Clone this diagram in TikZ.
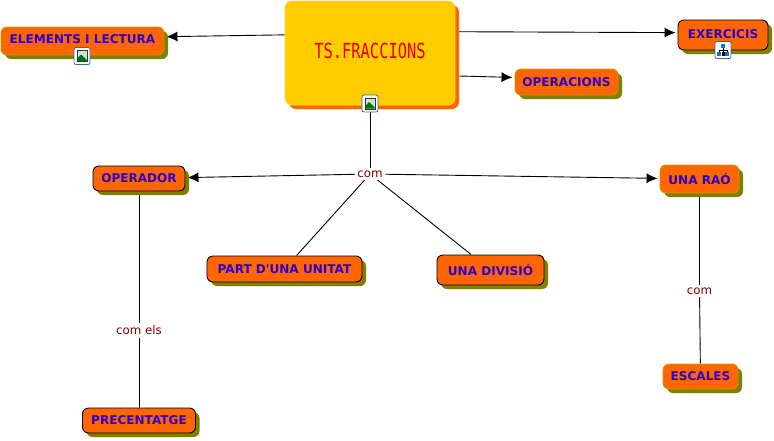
\documentclass[tikz,border=0pt]{standalone}
\usepackage{fontspec}
\setmainfont{DejaVu Sans}
\newfontfamily\lcdfont{DejaVu Sans Mono}
\usetikzlibrary{arrows.meta,shadows,backgrounds}
\definecolor{mapblue}{RGB}{44,0,200}
\definecolor{maporange}{RGB}{255,102,0}
\definecolor{mapgold}{RGB}{255,204,0}
\definecolor{mapolive}{RGB}{128,128,0}
\definecolor{mapedge}{RGB}{190,160,0}
\definecolor{mapred}{RGB}{128,0,0}
\definecolor{iconblue}{RGB}{40,110,190}
\tikzset{
  mapblock/.style={rectangle,draw=black,fill=maporange,line width=0.9pt,
    rounded corners=6pt,inner sep=0pt,align=center,
    font=\fontsize{12.05}{14}\selectfont\bfseries,text=mapblue,
    drop shadow={shadow xshift=4pt,shadow yshift=-4pt,fill=mapolive,opacity=1}},
  goldblock/.style={mapblock,draw=mapedge},
  rootblock/.style={rectangle,draw=mapgold!80!white,fill=mapgold,thick,
    rounded corners=7pt,inner sep=0pt,
    font=\lcdfont\fontsize{15.4}{18}\selectfont,text=red!90!black,
    drop shadow={shadow xshift=4pt,shadow yshift=-4pt,fill=maporange,opacity=1}},
  linklabel/.style={fill=white,inner sep=2.5pt,
    font=\fontsize{11.8}{13}\selectfont,text=mapred},
  maparrow/.style={-{Latex[length=11pt,width=10pt]},shorten >=2pt,black,line width=0.9pt},
  mapline/.style={black,line width=0.9pt},
  imgicon/.pic={
    \draw[iconblue,fill=white,line width=0.8pt,rounded corners=2pt] (-8,-8.5) rectangle (8,8.5);
    \fill[black!80] (-5.5,-6) rectangle (5.5,6);
    \fill[cyan!25] (-4.5,-5) rectangle (4.5,5);
    \fill[yellow!80!orange] (2,-3) circle (1.6);
    \fill[green!45!black] (-4.5,5) -- (-4.5,2) -- (-1,-1.5) -- (4.5,3.5) -- (4.5,5) -- cycle;
  },
  treeicon/.pic={
    \draw[iconblue,fill=white,line width=0.8pt,rounded corners=2pt] (-8,-8.5) rectangle (8,8.5);
    \draw[black,line width=0.5pt] (0,-3) -- (0,3) (-4,3) -- (-4,0) -- (4,0) -- (4,3);
    \fill[iconblue] (-1.8,-6) rectangle (1.8,-2.5);
    \fill[iconblue] (-5.8,2) rectangle (-2.2,5.5);
    \fill[black] (-1.5,2) rectangle (1.5,5.5);
    \fill[iconblue] (2.2,2) rectangle (5.8,5.5);
  }
}
\begin{document}
\begin{tikzpicture}[x=1pt,y=-1pt]
  \useasboundingbox (0,0) rectangle (774,440);
  % Central concept
  \node[rootblock,minimum width=170pt,minimum height=104pt] (main) at (370,53) {\raisebox{5pt}{\scalebox{1}[1.35]{TS.FRACCIONS}}};
  % Top row
  \node[goldblock,minimum width=163pt,minimum height=28pt] (elements) at (82.5,41) {\raisebox{3pt}{ELEMENTS I LECTURA}};
  \node[mapblock,minimum width=90pt,minimum height=30pt] (exercicis) at (723,35) {\raisebox{2pt}{EXERCICIS}};
  \node[goldblock,minimum width=103pt,minimum height=26pt] (operacions) at (566.5,82) {OPERACIONS};
  % Middle row
  \node[mapblock,minimum width=92pt,minimum height=25pt] (operador) at (139,178.5) {OPERADOR};
  \node[goldblock,minimum width=79pt,minimum height=28pt] (unarao) at (699.5,179) {UNA RAÓ};
  \node[mapblock,minimum width=155pt,minimum height=26pt] (part) at (284.5,269) {PART D\textquotesingle UNA UNITAT};
  \node[mapblock,minimum width=107pt,minimum height=30pt] (divisio) at (490.5,270) {UNA DIVISIÓ};
  % Bottom row
  \node[mapblock,minimum width=113pt,minimum height=25pt] (precentatge) at (139,420.5) {PRECENTATGE};
  \node[goldblock,minimum width=75pt,minimum height=25pt] (escales) at (700.5,376.5) {ESCALES};

  % Link labels
  \node[linklabel] (com1) at (370,174) {com};
  \node[linklabel] (comels) at (139,330.5) {com els};
  \node[linklabel] (com2) at (699.5,291) {com};

  % Connectors go under the blocks
  \begin{scope}[on background layer]
    \draw[maparrow] (main.168) -- (elements.3);
    \draw[maparrow] (main.14.5) -- (exercicis.177.5);
    \draw[maparrow] (main.-15.8) -- (operacions.175.6);
    \draw[mapline] (main) -- (com1);
    \foreach \a in {operador,unarao}
      \draw[maparrow] (com1) -- (\a);
    \foreach \a in {part,divisio}
      \draw[mapline] (com1) -- (\a);
    \draw[mapline] (operador) -- (comels);
    \draw[mapline] (comels) -- (precentatge);
    \draw[mapline] (unarao) -- (com2);
    \draw[mapline] (com2) -- (escales);
  \end{scope}

  % Resource icons
  \pic (iconelements) at (82,56) {imgicon};
  \pic (iconmain) at (370,103.5) {imgicon};
  \pic (iconexercicis) at (723,50) {treeicon};
\end{tikzpicture}
\end{document}
